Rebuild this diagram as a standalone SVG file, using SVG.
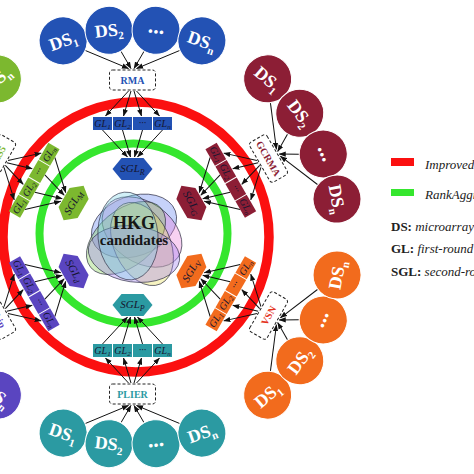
<svg xmlns="http://www.w3.org/2000/svg" xmlns:xlink="http://www.w3.org/1999/xlink" width="474" height="474" viewBox="0 0 474 474">
<style>
.f{fill:var(--c)}
.dc{stroke:#fff;stroke-width:1}
.ds{font-family:"Liberation Serif",serif;font-weight:bold;font-size:18px;fill:#fff;text-anchor:middle}
.dots{font-size:22px}
.dsub{font-size:11px}
.box{fill:#fff;stroke:#222;stroke-width:1;stroke-dasharray:3 2}
.bt{font-family:"Liberation Serif",serif;font-weight:bold;font-size:10px;fill:var(--c);text-anchor:middle}
.gl{font-family:"Liberation Serif",serif;font-style:italic;font-size:10px;fill:#151530;text-anchor:middle}
.gsub{font-size:7px}
.sgl{font-family:"Liberation Serif",serif;font-style:italic;font-size:11px;fill:#151530;text-anchor:middle}
.ssub{font-size:8px}
.blue{--c:#2352b4}.maroon{--c:#8c1e35}.orange{--c:#f26b1d}.teal{--c:#2b9aa2}.purple{--c:#5a45c0}.green{--c:#7cb82f}
.leg{font-family:"Liberation Serif",serif;font-size:13px;fill:#222}
.it{font-style:italic}
.b{font-weight:bold}
</style>
<defs>
<marker id="arr" viewBox="0 0 8 6" refX="7.5" refY="3" markerWidth="7" markerHeight="5.5" markerUnits="userSpaceOnUse" orient="auto"><path d="M0,0 L8,3 L0,6 z" fill="#111"/></marker>
<g id="ct" stroke="#111" stroke-width="1" marker-end="url(#arr)">
<line x1="-47.4" y1="-186.6" x2="-4" y2="-168.5"/>
<line x1="-11.6" y1="-185.8" x2="-1.5" y2="-168.5"/>
<line x1="11.6" y1="-185.8" x2="1.5" y2="-168.5"/>
<line x1="47.4" y1="-186.6" x2="4" y2="-168.5"/>
<line x1="-4" y1="-146" x2="-27" y2="-121"/>
<line x1="-1.5" y1="-146" x2="-9" y2="-121"/>
<line x1="1.5" y1="-146" x2="9" y2="-121"/>
<line x1="4" y1="-146" x2="27" y2="-121"/>
<line x1="-30" y1="-107" x2="-5" y2="-80"/>
<line x1="-10" y1="-107" x2="-2" y2="-80"/>
<line x1="10" y1="-107" x2="2" y2="-80"/>
<line x1="30" y1="-107" x2="5" y2="-80"/>
</g>
<g id="cb" stroke="#111" stroke-width="1" marker-end="url(#arr)">
<line x1="-47.4" y1="186.6" x2="-4" y2="168.5"/>
<line x1="-11.6" y1="185.8" x2="-1.5" y2="168.5"/>
<line x1="11.6" y1="185.8" x2="1.5" y2="168.5"/>
<line x1="47.4" y1="186.6" x2="4" y2="168.5"/>
<line x1="-4" y1="146" x2="-27" y2="121"/>
<line x1="-1.5" y1="146" x2="-9" y2="121"/>
<line x1="1.5" y1="146" x2="9" y2="121"/>
<line x1="4" y1="146" x2="27" y2="121"/>
<line x1="-30" y1="107" x2="-5" y2="80"/>
<line x1="-10" y1="107" x2="-2" y2="80"/>
<line x1="10" y1="107" x2="2" y2="80"/>
<line x1="30" y1="107" x2="5" y2="80"/>
</g>
</defs>
<rect width="474" height="474" fill="#fff"/>
<g id="rings" fill="none">
<ellipse cx="136" cy="237" rx="133" ry="135" stroke="#fb1010" stroke-width="9.5"/>
<ellipse cx="133.5" cy="233.5" rx="94" ry="90" stroke="#35e62e" stroke-width="8"/>
</g>
<g id="hkg">
<g stroke="#2a2a40" stroke-width="0.8" stroke-opacity="0.8">
<ellipse cx="134" cy="226" rx="44" ry="30" transform="rotate(-20 134 226)" fill="#5b7ff0" fill-opacity="0.35"/>
<ellipse cx="142" cy="232" rx="44" ry="30" transform="rotate(35 142 232)" fill="#e87ad8" fill-opacity="0.35"/>
<ellipse cx="126" cy="238" rx="46" ry="28" transform="rotate(-40 126 238)" fill="#7fcf4a" fill-opacity="0.35"/>
<ellipse cx="142" cy="244" rx="44" ry="28" transform="rotate(65 142 244)" fill="#e8df50" fill-opacity="0.35"/>
<ellipse cx="134" cy="254" rx="46" ry="28" transform="rotate(8 134 254)" fill="#9a78f0" fill-opacity="0.35"/>
<ellipse cx="128" cy="236" rx="44" ry="30" transform="rotate(85 128 236)" fill="#7cd4e8" fill-opacity="0.35"/>
</g>
<text x="134" y="229" text-anchor="middle" font-family="Liberation Serif, serif" font-weight="bold" font-size="18" fill="#161616">HKG</text>
<text x="134" y="245" text-anchor="middle" font-family="Liberation Serif, serif" font-weight="bold" font-size="15" fill="#161616">candidates</text>
</g>
<g id="connectors">
<use xlink:href="#ct" transform="translate(132.5,237)"/>
<use xlink:href="#ct" transform="translate(132.5,237) rotate(60)"/>
<use xlink:href="#ct" transform="translate(132.5,237) rotate(-60)"/>
<use xlink:href="#cb" transform="translate(132.5,237)"/>
<use xlink:href="#cb" transform="translate(132.5,237) rotate(-60)"/>
<use xlink:href="#cb" transform="translate(132.5,237) rotate(60)"/>
</g>

<g id="cluster-rma" class="blue" transform="translate(132.5,237)">
<g id="rma-ds1" transform="translate(-69.4,-196.1) rotate(-19.5)"><circle r="24" class="f dc"/><text class="ds" y="6">DS<tspan class="dsub" dy="4">1</tspan></text></g>
<g id="rma-ds2" transform="translate(-23.5,-206.7) rotate(-6.5)"><circle r="24" class="f dc"/><text class="ds" y="6">DS<tspan class="dsub" dy="4">2</tspan></text></g>
<g id="rma-ds3" transform="translate(23.5,-206.7) rotate(6.5)"><circle r="24" class="f dc"/><text class="ds dots" y="3">...</text></g>
<g id="rma-dsn" transform="translate(69.4,-196.1) rotate(19.5)"><circle r="24" class="f dc"/><text class="ds" y="6">DS<tspan class="dsub" dy="4">n</tspan></text></g>
<g id="rma-box"><rect class="box" x="-23" y="-167" width="46" height="20" rx="3"/><text class="bt" y="-153.5">RMA</text></g>
<g id="rma-gl1"><rect class="f" x="-39.5" y="-120" width="19" height="13"/><text class="gl" x="-30" y="-110.5">GL<tspan class="gsub" dy="2">1</tspan></text></g>
<g id="rma-gl2"><rect class="f" x="-19.5" y="-120" width="19" height="13"/><text class="gl" x="-10" y="-110.5">GL<tspan class="gsub" dy="2">2</tspan></text></g>
<g id="rma-gl3"><rect class="f" x="0.5" y="-120" width="19" height="13"/><text class="gl" x="10" y="-111">···</text></g>
<g id="rma-gln"><rect class="f" x="20.5" y="-120" width="19" height="13"/><text class="gl" x="30" y="-110.5">GL<tspan class="gsub" dy="2">n</tspan></text></g>
<g id="rma-sgl"><polygon class="f" points="-20,-68 -11,-79 11,-79 20,-68 11,-57 -11,-57"/><text class="sgl" y="-65">SGL<tspan class="ssub" dy="2.5">R</tspan></text></g>
</g>

<g id="cluster-gcrma" class="maroon" transform="translate(132.5,237) rotate(60)">
<g id="gcrma-ds1" transform="translate(-69.4,-196.1) rotate(-19.5)"><circle r="24" class="f dc"/><text class="ds" y="6">DS<tspan class="dsub" dy="4">1</tspan></text></g>
<g id="gcrma-ds2" transform="translate(-23.5,-206.7) rotate(-6.5)"><circle r="24" class="f dc"/><text class="ds" y="6">DS<tspan class="dsub" dy="4">2</tspan></text></g>
<g id="gcrma-ds3" transform="translate(23.5,-206.7) rotate(6.5)"><circle r="24" class="f dc"/><text class="ds dots" y="3">...</text></g>
<g id="gcrma-dsn" transform="translate(69.4,-196.1) rotate(19.5)"><circle r="24" class="f dc"/><text class="ds" y="6">DS<tspan class="dsub" dy="4">n</tspan></text></g>
<g id="gcrma-box"><rect class="box" x="-23" y="-167" width="46" height="20" rx="3"/><text class="bt" y="-153.5">GCRMA</text></g>
<g id="gcrma-gl1"><rect class="f" x="-39.5" y="-120" width="19" height="13"/><text class="gl" x="-30" y="-110.5">GL<tspan class="gsub" dy="2">1</tspan></text></g>
<g id="gcrma-gl2"><rect class="f" x="-19.5" y="-120" width="19" height="13"/><text class="gl" x="-10" y="-110.5">GL<tspan class="gsub" dy="2">2</tspan></text></g>
<g id="gcrma-gl3"><rect class="f" x="0.5" y="-120" width="19" height="13"/><text class="gl" x="10" y="-111">···</text></g>
<g id="gcrma-gln"><rect class="f" x="20.5" y="-120" width="19" height="13"/><text class="gl" x="30" y="-110.5">GL<tspan class="gsub" dy="2">n</tspan></text></g>
<g id="gcrma-sgl"><polygon class="f" points="-20,-68 -11,-79 11,-79 20,-68 11,-57 -11,-57"/><text class="sgl" y="-65">SGL<tspan class="ssub" dy="2.5">G</tspan></text></g>
</g>

<g id="cluster-mas5" class="green" transform="translate(132.5,237) rotate(-60)">
<g id="mas5-ds1" transform="translate(-69.4,-196.1) rotate(-19.5)"><circle r="24" class="f dc"/><text class="ds" y="6">DS<tspan class="dsub" dy="4">1</tspan></text></g>
<g id="mas5-ds2" transform="translate(-23.5,-206.7) rotate(-6.5)"><circle r="24" class="f dc"/><text class="ds" y="6">DS<tspan class="dsub" dy="4">2</tspan></text></g>
<g id="mas5-ds3" transform="translate(23.5,-206.7) rotate(6.5)"><circle r="24" class="f dc"/><text class="ds dots" y="3">...</text></g>
<g id="mas5-dsn" transform="translate(69.4,-196.1) rotate(19.5)"><circle r="24" class="f dc"/><text class="ds" y="6">DS<tspan class="dsub" dy="4">n</tspan></text></g>
<g id="mas5-box"><rect class="box" x="-23" y="-167" width="46" height="20" rx="3"/><text class="bt" y="-153.5">MAS5</text></g>
<g id="mas5-gl1"><rect class="f" x="-39.5" y="-120" width="19" height="13"/><text class="gl" x="-30" y="-110.5">GL<tspan class="gsub" dy="2">1</tspan></text></g>
<g id="mas5-gl2"><rect class="f" x="-19.5" y="-120" width="19" height="13"/><text class="gl" x="-10" y="-110.5">GL<tspan class="gsub" dy="2">2</tspan></text></g>
<g id="mas5-gl3"><rect class="f" x="0.5" y="-120" width="19" height="13"/><text class="gl" x="10" y="-111">···</text></g>
<g id="mas5-gln"><rect class="f" x="20.5" y="-120" width="19" height="13"/><text class="gl" x="30" y="-110.5">GL<tspan class="gsub" dy="2">n</tspan></text></g>
<g id="mas5-sgl"><polygon class="f" points="-20,-68 -11,-79 11,-79 20,-68 11,-57 -11,-57"/><text class="sgl" y="-65">SGL<tspan class="ssub" dy="2.5">M</tspan></text></g>
</g>

<g id="cluster-plier" class="teal" transform="translate(132.5,237)">
<g id="plier-ds1" transform="translate(-69.4,196.1) rotate(19.5)"><circle r="24" class="f dc"/><text class="ds" y="6">DS<tspan class="dsub" dy="4">1</tspan></text></g>
<g id="plier-ds2" transform="translate(-23.5,206.7) rotate(6.5)"><circle r="24" class="f dc"/><text class="ds" y="6">DS<tspan class="dsub" dy="4">2</tspan></text></g>
<g id="plier-ds3" transform="translate(23.5,206.7) rotate(-6.5)"><circle r="24" class="f dc"/><text class="ds dots" y="3">...</text></g>
<g id="plier-dsn" transform="translate(69.4,196.1) rotate(-19.5)"><circle r="24" class="f dc"/><text class="ds" y="6">DS<tspan class="dsub" dy="4">n</tspan></text></g>
<g id="plier-box"><rect class="box" x="-23" y="147" width="46" height="20" rx="3"/><text class="bt" y="160.5">PLIER</text></g>
<g id="plier-gl1"><rect class="f" x="-39.5" y="107" width="19" height="13"/><text class="gl" x="-30" y="116.5">GL<tspan class="gsub" dy="2">1</tspan></text></g>
<g id="plier-gl2"><rect class="f" x="-19.5" y="107" width="19" height="13"/><text class="gl" x="-10" y="116.5">GL<tspan class="gsub" dy="2">2</tspan></text></g>
<g id="plier-gl3"><rect class="f" x="0.5" y="107" width="19" height="13"/><text class="gl" x="10" y="116">···</text></g>
<g id="plier-gln"><rect class="f" x="20.5" y="107" width="19" height="13"/><text class="gl" x="30" y="116.5">GL<tspan class="gsub" dy="2">n</tspan></text></g>
<g id="plier-sgl"><polygon class="f" points="-20,68 -11,57 11,57 20,68 11,79 -11,79"/><text class="sgl" y="71">SGL<tspan class="ssub" dy="2.5">P</tspan></text></g>
</g>

<g id="cluster-vsn" class="orange" transform="translate(132.5,237) rotate(-60)">
<g id="vsn-ds1" transform="translate(-69.4,196.1) rotate(19.5)"><circle r="24" class="f dc"/><text class="ds" y="6">DS<tspan class="dsub" dy="4">1</tspan></text></g>
<g id="vsn-ds2" transform="translate(-23.5,206.7) rotate(6.5)"><circle r="24" class="f dc"/><text class="ds" y="6">DS<tspan class="dsub" dy="4">2</tspan></text></g>
<g id="vsn-ds3" transform="translate(23.5,206.7) rotate(-6.5)"><circle r="24" class="f dc"/><text class="ds dots" y="3">...</text></g>
<g id="vsn-dsn" transform="translate(69.4,196.1) rotate(-19.5)"><circle r="24" class="f dc"/><text class="ds" y="6">DS<tspan class="dsub" dy="4">n</tspan></text></g>
<g id="vsn-box"><rect class="box" x="-23" y="147" width="46" height="20" rx="3"/><text class="bt" y="160.5" style="fill:#e4321c">VSN</text></g>
<g id="vsn-gl1"><rect class="f" x="-39.5" y="107" width="19" height="13"/><text class="gl" x="-30" y="116.5">GL<tspan class="gsub" dy="2">1</tspan></text></g>
<g id="vsn-gl2"><rect class="f" x="-19.5" y="107" width="19" height="13"/><text class="gl" x="-10" y="116.5">GL<tspan class="gsub" dy="2">2</tspan></text></g>
<g id="vsn-gl3"><rect class="f" x="0.5" y="107" width="19" height="13"/><text class="gl" x="10" y="116">···</text></g>
<g id="vsn-gln"><rect class="f" x="20.5" y="107" width="19" height="13"/><text class="gl" x="30" y="116.5">GL<tspan class="gsub" dy="2">n</tspan></text></g>
<g id="vsn-sgl"><polygon class="f" points="-20,68 -11,57 11,57 20,68 11,79 -11,79"/><text class="sgl" y="71">SGL<tspan class="ssub" dy="2.5">V</tspan></text></g>
</g>

<g id="cluster-dchip" class="purple" transform="translate(132.5,237) rotate(60)">
<g id="dchip-ds1" transform="translate(-69.4,196.1) rotate(19.5)"><circle r="24" class="f dc"/><text class="ds" y="6">DS<tspan class="dsub" dy="4">1</tspan></text></g>
<g id="dchip-ds2" transform="translate(-23.5,206.7) rotate(6.5)"><circle r="24" class="f dc"/><text class="ds" y="6">DS<tspan class="dsub" dy="4">2</tspan></text></g>
<g id="dchip-ds3" transform="translate(23.5,206.7) rotate(-6.5)"><circle r="24" class="f dc"/><text class="ds dots" y="3">...</text></g>
<g id="dchip-dsn" transform="translate(69.4,196.1) rotate(-19.5)"><circle r="24" class="f dc"/><text class="ds" y="6">DS<tspan class="dsub" dy="4">n</tspan></text></g>
<g id="dchip-box"><rect class="box" x="-23" y="147" width="46" height="20" rx="3"/><text class="bt" y="160.5">dChip</text></g>
<g id="dchip-gl1"><rect class="f" x="-39.5" y="107" width="19" height="13"/><text class="gl" x="-30" y="116.5">GL<tspan class="gsub" dy="2">1</tspan></text></g>
<g id="dchip-gl2"><rect class="f" x="-19.5" y="107" width="19" height="13"/><text class="gl" x="-10" y="116.5">GL<tspan class="gsub" dy="2">2</tspan></text></g>
<g id="dchip-gl3"><rect class="f" x="0.5" y="107" width="19" height="13"/><text class="gl" x="10" y="116">···</text></g>
<g id="dchip-gln"><rect class="f" x="20.5" y="107" width="19" height="13"/><text class="gl" x="30" y="116.5">GL<tspan class="gsub" dy="2">n</tspan></text></g>
<g id="dchip-sgl"><polygon class="f" points="-20,68 -11,57 11,57 20,68 11,79 -11,79"/><text class="sgl" y="71">SGL<tspan class="ssub" dy="2.5">d</tspan></text></g>
</g>

<g id="legend">
<rect x="391" y="158" width="23" height="8" fill="#fb1010"/>
<text class="leg it" x="425" y="169">Improved RRA</text>
<rect x="391" y="189" width="23" height="7" fill="#35e62e"/>
<text class="leg it" x="425" y="199">RankAggreg</text>
<text class="leg" x="391" y="231"><tspan class="b">DS:</tspan><tspan class="it"> microarray data</tspan></text>
<text class="leg" x="391" y="253"><tspan class="b">GL:</tspan><tspan class="it"> first-round gene list</tspan></text>
<text class="leg" x="391" y="276"><tspan class="b">SGL:</tspan><tspan class="it"> second-round gene list</tspan></text>
</g>
</svg>
